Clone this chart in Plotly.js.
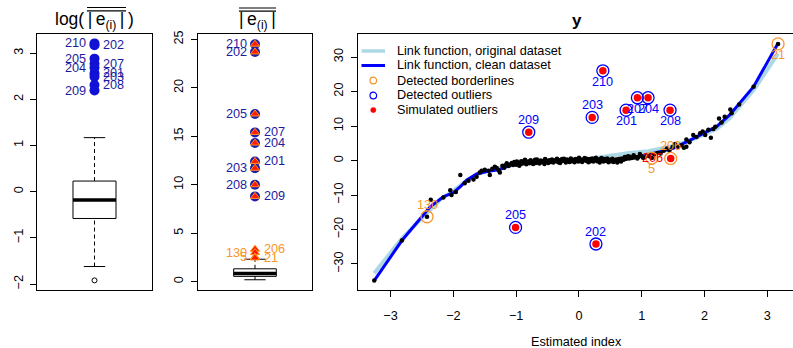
<!DOCTYPE html>
<html>
<head>
<meta charset="utf-8">
<script src="https://cdn.plot.ly/plotly-3.0.1.min.js"></script>
<style>html,body{margin:0;padding:0;background:#fff;}#chart{width:793px;height:348px;}</style>
</head>
<body>
<div id="chart"></div>
<script>
// ---------------- DATA ----------------
// detected outliers (ids), their |e(i)| and log(|e(i)|)
const outIds    = ["210","202","205","207","204","201","203","208","209"];
const outAbsErr = [24.5, 23.7, 17.3, 15.4, 14.3, 12.4, 11.7, 10.0, 8.8];
const outLogErr = [3.21, 3.17, 2.88, 2.77, 2.68, 2.56, 2.49, 2.31, 2.19];
// borderline points in the |e(i)| panel
const brdIds    = ["206","130","5","21"];
const brdAbsErr = [3.35, 3.0, 2.55, 2.45];
// boxplot statistics
const box1 = {lo:-1.62, q1:-0.58, med:-0.18, q3:0.23, hi:1.17};
const box1Out = [-1.92];
const box2 = {lo:0.2, q1:0.55, med:0.85, q3:1.33, hi:2.32};
// tick values
const yTicks1 = [-2,-1,0,1,2,3];
const yTicks2 = [0,5,10,15,20,25];
const xTicks3 = [-3,-2,-1,0,1,2,3];
const yTicks3 = [-30,-20,-10,0,10,20,30];
// scatter cloud (estimated index, y)
const cloud = [
[-3.26,-34.8],[-2.82,-23.2],[-2.42,-16.3],[-2.36,-11.4],[-2.16,-10.7],[-2.05,-8.6],[-2.03,-10.0],[-1.96,-9.1],
[-1.89,-4.2],[-1.82,-6.6],[-1.76,-5.9],[-1.68,-5.5],[-1.63,-4.7],[-1.58,-3.5],[-1.55,-3.0],[-1.50,-2.7],
[-1.44,-3.0],[-1.42,-4.2],[-1.38,-2.4],[-1.34,-1.8],[-1.31,-2.2],[-1.28,-2.8],[-1.26,-3.5],[-1.22,-1.5],
[-1.19,-2.1],[-1.17,-1.4],[-1.15,-0.8],[-1.12,-1.6],[-1.09,-1.1],[-1.07,-0.7],[-1.05,-1.3],[-1.03,-0.4],
[-1.00,-1.2],[-0.99,-0.3],[-0.97,-0.6],[-0.95,-1.5],[-0.93,-1.0],[-0.92,-0.2],[-0.90,-0.9],[-0.88,-0.5],
[-0.87,-0.1],[-0.86,0.2],[-0.84,-1.1],[-0.82,-0.6],[-0.81,-0.3],[-0.79,-0.8],[-0.77,0.1],[-0.76,-0.3],
[-0.75,-0.6],[-0.73,-1.0],[-0.71,-0.2],[-0.70,0.2],[-0.69,-0.7],[-0.67,0.3],[-0.66,-0.6],[-0.65,-0.4],
[-0.63,-0.9],[-0.61,0.0],[-0.60,-0.2],[-0.59,-0.5],[-0.57,-0.2],[-0.55,-1.0],[-0.54,0.4],[-0.53,0.2],
[-0.51,-0.3],[-0.49,-0.7],[-0.48,-0.2],[-0.47,0.1],[-0.45,-0.4],[-0.43,0.3],[-0.42,-0.3],[-0.41,-0.6],
[-0.39,0.0],[-0.37,-0.2],[-0.36,0.2],[-0.35,0.5],[-0.33,-0.5],[-0.31,0.1],[-0.30,-0.7],[-0.29,-0.3],
[-0.27,0.4],[-0.25,-0.1],[-0.24,0.5],[-0.23,0.2],[-0.21,-0.6],[-0.19,0.3],[-0.18,-0.2],[-0.17,0.0],
[-0.15,-0.4],[-0.13,0.6],[-0.12,0.3],[-0.11,-0.2],[-0.09,0.2],[-0.07,-0.5],[-0.06,-0.1],[-0.05,0.4],
[-0.03,0.0],[-0.01,-0.3],[0.00,0.8],[0.01,0.5],[0.03,0.1],[0.05,-0.4],[0.06,0.0],[0.07,0.3],
[0.09,0.7],[0.11,-0.1],[0.12,0.5],[0.13,0.2],[0.15,-0.5],[0.17,0.4],[0.18,-0.2],[0.19,0.0],
[0.21,0.6],[0.23,-0.3],[0.24,0.4],[0.25,0.2],[0.27,0.8],[0.29,-0.2],[0.30,0.0],[0.31,0.3],
[0.33,-0.6],[0.35,0.5],[0.36,0.7],[0.37,0.1],[0.39,-0.3],[0.41,0.4],[0.42,0.1],[0.43,-0.1],
[0.45,0.6],[0.47,-0.5],[0.48,-0.1],[0.49,0.2],[0.51,-0.2],[0.53,0.5],[0.54,0.3],[0.55,-0.4],
[0.57,0.1],[0.59,0.3],[0.60,0.0],[0.61,-0.6],[0.63,0.4],[0.65,0.0],[0.66,0.5],[0.67,-0.3],
[0.69,0.6],[0.71,0.2],[0.72,0.4],[0.73,1.0],[0.75,0.5],[0.78,1.2],[0.80,0.6],[0.81,1.1],
[0.84,0.7],[0.87,1.5],[0.88,0.9],[0.90,1.1],[0.93,0.6],[0.95,1.1],[0.97,1.9],[1.00,1.3],
[1.02,0.8],[1.04,0.9],[1.08,1.6],[1.10,1.4],[1.12,1.2],[1.16,0.7],[1.20,1.8],[1.25,2.2],
[1.30,2.0],[1.35,2.8],[1.40,3.5],[1.44,2.9],[1.49,3.9],[1.53,4.8],[1.58,4.0],[1.63,4.4],
[1.67,3.7],[1.71,4.0],[1.71,6.1],[1.76,5.3],[1.82,7.4],[1.87,6.8],[1.93,7.9],[1.97,8.4],
[2.01,7.4],[2.06,8.9],[2.10,6.6],[2.14,9.1],[2.17,9.8],[2.23,12.2],[2.27,11.0],[2.32,12.7],
[2.41,14.8],[2.43,13.7],[2.55,16.2],[2.78,21.4],[3.17,33.8]
];
// link functions
const origLinkX = [-3.26,-2.82,-2.42,-2.2,-2.0,-1.8,-1.6,-1.4,-1.2,-1.0,-0.6,-0.2,0.2,0.5,0.8,1.1,1.45,1.75,2.03,2.2,2.4,2.78,3.17];
const origLinkY = [-32.7,-22.6,-15.2,-11.2,-8.8,-6.0,-3.8,-2.9,-2.0,-1.0,-0.3,0.1,0.5,1.4,2.2,2.7,4.0,5.6,7.9,9.3,12.3,20.4,31.0];
const cleanLinkX = [-3.26,-2.82,-2.37,-2.16,-2.00,-1.89,-1.79,-1.63,-1.47,-1.26,-1.05,-0.83,-0.41,0.0,0.71,1.08,1.50,1.77,2.03,2.19,2.40,2.78,3.17];
const cleanLinkY = [-34.8,-23.2,-13.4,-10.5,-9.3,-7.6,-5.7,-3.9,-3.2,-2.6,-1.0,-0.6,-0.1,0.1,0.3,1.6,3.5,5.9,8.3,9.8,13.2,21.4,34.0];
// simulated outliers
const simIds = ["201","202","203","204","205","206","207","208","209","210"];
const simX   = [0.75, 0.27, 0.21, 1.10, -1.01, 1.46, 0.93, 1.45, -0.80, 0.38];
const simY   = [14.6, -24.2, 12.5, 18.2, -19.4, 0.6, 18.2, 14.6, 8.2, 26.0];
// detected outliers in scatter
const detIds = ["201","202","203","204","205","207","208","209","210"];
const detX   = [0.75, 0.27, 0.21, 1.10, -1.01, 0.93, 1.45, -0.80, 0.38];
const detY   = [14.6, -24.2, 12.5, 18.2, -19.4, 18.2, 14.6, 8.2, 26.0];
// detected borderlines in scatter
const bordIds = ["130","5","206","21"];
const bordX   = [-2.42, 1.16, 1.46, 3.17];
const bordY   = [-16.3, 0.7, 0.6, 33.8];
// undetected simulated outlier label
const undetIds = ["206"];
const undetX = [1.46];
const undetY = [0.6];

// ---------------- STYLE / LAYOUT ----------------
const W = 793, H = 348;
const FONT = "Liberation Sans, Arial, Helvetica, sans-serif";
const FS = 12.7;
const ORANGE = "#f7962a";
const px = v => v / W, py = v => 1 - v / H;
const BL = 0.313, BR = 0.687, CL = 0.407, CR = 0.593, C = 0.5;

const left1 = new Set(["210","205","204","209"]);
const left2 = new Set(["210","202","205","203","208","130","5"]);
const above3 = new Set(["209","205","202","203","130"]);

function boxTraces(b, xa, ya) {
  const base = {type:"scatter", mode:"lines", xaxis:xa, yaxis:ya, hoverinfo:"skip", showlegend:false};
  return [
    Object.assign({}, base, {x:[C,C], y:[b.q3,b.hi], line:{color:"#000", width:1, dash:"4px,3px"}}),
    Object.assign({}, base, {x:[C,C], y:[b.lo,b.q1], line:{color:"#000", width:1, dash:"4px,3px"}}),
    Object.assign({}, base, {x:[CL,CR], y:[b.hi,b.hi], line:{color:"#000", width:1}}),
    Object.assign({}, base, {x:[CL,CR], y:[b.lo,b.lo], line:{color:"#000", width:1}}),
    Object.assign({}, base, {x:[BL,BR,BR,BL,BL], y:[b.q1,b.q1,b.q3,b.q3,b.q1], line:{color:"#000", width:1}}),
    Object.assign({}, base, {x:[BL,BR], y:[b.med,b.med], line:{color:"#000", width:3.5}})
  ];
}

const traces = [];
// Panel 1
traces.push(...boxTraces(box1, "x", "y"));
traces.push({type:"scatter", mode:"markers", xaxis:"x", yaxis:"y", x:box1Out.map(()=>C), y:box1Out,
  marker:{symbol:"circle-open", size:5, color:"#000", line:{width:1, color:"#000"}}, showlegend:false});
traces.push({type:"scatter", mode:"markers", xaxis:"x", yaxis:"y", x:outLogErr.map(()=>C), y:outLogErr,
  marker:{symbol:"circle", size:10, color:"#1212d6"}, showlegend:false});
// Panel 2
traces.push(...boxTraces(box2, "x2", "y2"));
traces.push({type:"scatter", mode:"markers", xaxis:"x2", yaxis:"y2", x:outAbsErr.map(()=>C), y:outAbsErr,
  marker:{symbol:"circle", size:10, color:"#1e1ea8"}, showlegend:false});
traces.push({type:"scatter", mode:"markers", xaxis:"x2", yaxis:"y2", x:outAbsErr.concat(brdAbsErr).map(()=>C), y:outAbsErr.concat(brdAbsErr),
  marker:{symbol:"triangle-up", size:8, color:"#ff1a00", line:{width:1, color:"#ff9020"}}, showlegend:false});
// Panel 3
traces.push({type:"scatter", mode:"lines", xaxis:"x3", yaxis:"y3", x:origLinkX, y:origLinkY,
  line:{color:"#add8e6", width:4}, showlegend:false});
traces.push({type:"scatter", mode:"lines", xaxis:"x3", yaxis:"y3", x:cleanLinkX, y:cleanLinkY,
  line:{color:"#0000ff", width:3}, showlegend:false});
traces.push({type:"scatter", mode:"markers", xaxis:"x3", yaxis:"y3", x:cloud.map(p=>p[0]), y:cloud.map(p=>p[1]),
  marker:{symbol:"circle", size:4.5, color:"#000"}, showlegend:false});
traces.push({type:"scatter", mode:"markers", xaxis:"x3", yaxis:"y3", x:simX, y:simY,
  marker:{symbol:"circle", size:7.5, color:"#ff0000"}, showlegend:false});
traces.push({type:"scatter", mode:"markers", xaxis:"x3", yaxis:"y3", x:detX, y:detY,
  marker:{symbol:"circle-open", size:12, color:"#0000ff", line:{width:1.3, color:"#0000ff"}}, showlegend:false});
traces.push({type:"scatter", mode:"markers", xaxis:"x3", yaxis:"y3", x:bordX, y:bordY,
  marker:{symbol:"circle-open", size:12, color:ORANGE, line:{width:1.3, color:ORANGE}}, showlegend:false});

// Annotations
const ann = [];
const lab = (o) => Object.assign({showarrow:false, font:{family:FONT, size:FS}}, o);
outIds.forEach((id,i) => {
  const L = left1.has(id);
  ann.push(lab({xref:"x", yref:"y", x:C, y:outLogErr[i], text:id, xanchor:L?"right":"left", xshift:L?-7:6, yanchor:"middle", font:{family:FONT,size:FS,color:"#1c1c9e"}}));
  const L2 = left2.has(id);
  ann.push(lab({xref:"x2", yref:"y2", x:C, y:outAbsErr[i], text:id, xanchor:L2?"right":"left", xshift:L2?-6:7, yanchor:"middle", font:{family:FONT,size:FS,color:"#1c1c9e"}}));
});
brdIds.forEach((id,i) => {
  const L2 = left2.has(id);
  ann.push(lab({xref:"x2", yref:"y2", x:C, y:brdAbsErr[i], text:id, xanchor:L2?"right":"left", xshift:L2?-6:7, yanchor:"middle", font:{family:FONT,size:FS,color:ORANGE}}));
});
detIds.forEach((id,i) => {
  const A = above3.has(id);
  ann.push(lab({xref:"x3", yref:"y3", x:detX[i], y:detY[i], text:id, xanchor:"center", yanchor:"middle", yshift:A?12:-11, font:{family:FONT,size:FS,color:"#0000ff"}}));
});
bordIds.forEach((id,i) => {
  const A = above3.has(id) || id === "206";
  ann.push(lab({xref:"x3", yref:"y3", x:bordX[i], y:bordY[i], text:id, xanchor:"center", yanchor:"middle", yshift:A?12:-11, font:{family:FONT,size:FS,color:ORANGE}}));
});
undetIds.forEach((id,i) => {
  ann.push(lab({xref:"x3", yref:"y3", x:undetX[i], y:undetY[i], text:id, xanchor:"right", xshift:-6, yanchor:"middle", font:{family:FONT,size:FS,color:"#ff0000"}}));
});
// Titles
ann.push(lab({xref:"paper", yref:"paper", x:px(94), y:py(20), xanchor:"center", yanchor:"middle", text:"log(\u2009|\u2009e<sub>(i)</sub>\u2009|\u2009)", font:{family:FONT, size:17.5, color:"#000"}}));
ann.push(lab({xref:"paper", yref:"paper", x:px(257), y:py(21), xanchor:"center", yanchor:"middle", text:"|\u2009e<sub>(i)</sub>\u2009|", font:{family:FONT, size:17.5, color:"#000"}}));
ann.push(lab({xref:"paper", yref:"paper", x:px(577), y:py(20), xanchor:"center", yanchor:"middle", text:"<b>y</b>", font:{family:FONT, size:17, color:"#000"}}));
ann.push(lab({xref:"paper", yref:"paper", x:px(576), y:py(342), xanchor:"center", yanchor:"middle", text:"Estimated index", font:{family:FONT, size:FS, color:"#000"}}));
// Legend text
const legTexts = ["Link function, original dataset","Link function, clean dataset","Detected borderlines","Detected outliers","Simulated outliers"];
const legRows = [51, 65.5, 80.5, 95.5, 110];
legTexts.forEach((t,i) => ann.push(lab({xref:"paper", yref:"paper", x:px(395), y:py(legRows[i]), xanchor:"left", yanchor:"middle", text:t, font:{family:FONT,size:FS,color:"#000"}})));

// Shapes: overlines and legend keys
const shapes = [];
const hl = (x0,x1,y,w,c) => ({type:"line", xref:"paper", yref:"paper", x0:px(x0), x1:px(x1), y0:py(y), y1:py(y), line:{color:c, width:w}});
shapes.push(hl(87,126,7.5,1.2,"#000"), hl(87,126,10.8,1.2,"#000"));
shapes.push(hl(239,276,8,1.2,"#000"), hl(239,276,11.2,1.2,"#000"));
shapes.push(hl(361.5,385,legRows[0],3.5,"#add8e6"), hl(361.5,385,legRows[1],3,"#0000ff"));
const circ = (x,y,r,o) => Object.assign({type:"circle", xref:"paper", yref:"paper", xsizemode:"pixel", ysizemode:"pixel",
  xanchor:px(x), yanchor:py(y), x0:-r, x1:r, y0:-r, y1:r}, o);
shapes.push(circ(373.3, legRows[2], 3.3, {line:{color:ORANGE, width:1.2}}));
shapes.push(circ(373.3, legRows[3], 3.3, {line:{color:"#0000ff", width:1.2}}));
shapes.push(circ(373.3, legRows[4], 2.6, {line:{color:"#ff0000", width:0.5}, fillcolor:"#ff0000"}));

const axBase = {showgrid:false, zeroline:false, showline:true, linecolor:"#000", linewidth:1, fixedrange:true,
  tickfont:{family:FONT, size:FS, color:"#000"}, ticks:"outside", ticklen:6, tickwidth:1, tickcolor:"#000"};

const layout = {
  width: W, height: H, margin:{l:0, r:0, t:0, b:0, pad:0}, paper_bgcolor:"#fff", plot_bgcolor:"#fff",
  showlegend:false, hovermode:false,
  xaxis: Object.assign({}, axBase, {domain:[px(37), px(152)], range:[0,1], ticks:"", showticklabels:false, mirror:true, anchor:"y"}),
  yaxis: Object.assign({}, axBase, {domain:[py(290), py(34)], range:[-2.128, 3.413], tickvals:yTicks1, tickangle:-90, mirror:true, anchor:"x", ticklabelstandoff:2}),
  xaxis2: Object.assign({}, axBase, {domain:[px(198), px(312)], range:[0,1], ticks:"", showticklabels:false, mirror:true, anchor:"y2"}),
  yaxis2: Object.assign({}, axBase, {domain:[py(290), py(34)], range:[-0.856, 25.55], tickvals:yTicks2, tickangle:-90, mirror:true, anchor:"x2", ticklabelstandoff:3}),
  xaxis3: Object.assign({}, axBase, {domain:[px(358), 1], range:[-3.519, 3.408], tickvals:xTicks3, mirror:true, anchor:"y3", ticklabelstandoff:8}),
  yaxis3: Object.assign({}, axBase, {domain:[py(290), py(34)], range:[-37.54, 36.67], tickvals:yTicks3, tickangle:-90, mirror:false, anchor:"x3", ticklabelstandoff:3}),
  annotations: ann,
  shapes: shapes
};

Plotly.newPlot("chart", traces, layout, {staticPlot:true, displayModeBar:false});
</script>
</body>
</html>
